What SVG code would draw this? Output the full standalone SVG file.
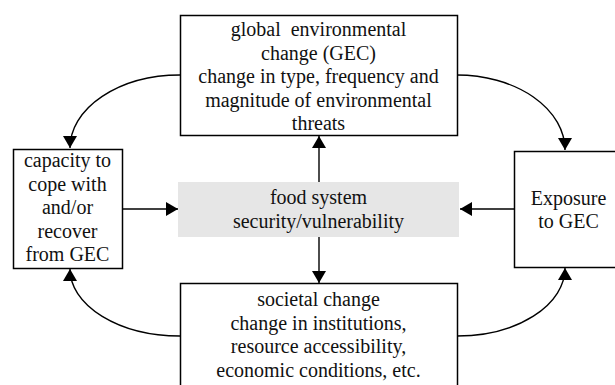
<svg xmlns="http://www.w3.org/2000/svg" width="615" height="385" viewBox="0 0 615 385">
<defs>
<style>
.box{fill:#fff;stroke:#000;stroke-width:1.5}
.grey{fill:#e6e6e6;stroke:none}
text{font-family:"Liberation Serif","Times New Roman",serif;font-size:20px;fill:#111;text-anchor:middle;white-space:pre}
.con{fill:none;stroke:#000;stroke-width:1.4}
</style>
<marker id="ah" viewBox="0 0 12 14" refX="12" refY="7" markerWidth="12" markerHeight="14" markerUnits="userSpaceOnUse" orient="auto">
<path d="M0,0 L12,7 L0,14 Z" fill="#000"/>
</marker>
</defs>
<rect width="615" height="385" fill="#fff"/>
<g id="connectors">
<path class="con" d="M180,75 A110,73 0 0 0 70,148" marker-end="url(#ah)"/>
<path class="con" d="M457,75 A108,75 0 0 1 565,150" marker-end="url(#ah)"/>
<path class="con" d="M180,336 A110,67 0 0 1 70,269" marker-end="url(#ah)"/>
<path class="con" d="M457,336 A108,68 0 0 0 565,268" marker-end="url(#ah)"/>
<path class="con" d="M122,209 L178,209" marker-end="url(#ah)"/>
<path class="con" d="M514,209 L460,209" marker-end="url(#ah)"/>
<path class="con" d="M319,182 L319,136" marker-end="url(#ah)"/>
<path class="con" d="M319,237 L319,283" marker-end="url(#ah)"/>
</g>
<g id="gec">
<rect class="box" x="180.5" y="15.5" width="277" height="120"/>
<text x="318.5" y="36">global  environmental</text>
<text x="318.5" y="59.6">change (GEC)</text>
<text x="318.5" y="83.2">change in type, frequency and</text>
<text x="318.5" y="106.8">magnitude of environmental</text>
<text x="318.5" y="130.4">threats</text>
</g>
<g id="capacity">
<rect class="box" x="13.5" y="149.5" width="109" height="119"/>
<text x="67.5" y="167">capacity to</text>
<text x="67.5" y="190.5">cope with</text>
<text x="67.5" y="214">and/or</text>
<text x="67.5" y="237.5">recover</text>
<text x="67.5" y="261">from GEC</text>
</g>
<g id="food">
<rect class="grey" x="178" y="182" width="281" height="55"/>
<text x="318.5" y="204">food system</text>
<text x="318.5" y="228">security/vulnerability</text>
</g>
<g id="exposure">
<rect class="box" x="514.5" y="151.5" width="110" height="116"/>
<text x="568.5" y="205">Exposure</text>
<text x="568.5" y="227.5">to GEC</text>
</g>
<g id="societal">
<rect class="box" x="180.5" y="283.5" width="277" height="120"/>
<text x="318.5" y="306">societal change</text>
<text x="318.5" y="329.5">change in institutions,</text>
<text x="318.5" y="353">resource accessibility,</text>
<text x="318.5" y="376.5">economic conditions, etc.</text>
</g>
</svg>
